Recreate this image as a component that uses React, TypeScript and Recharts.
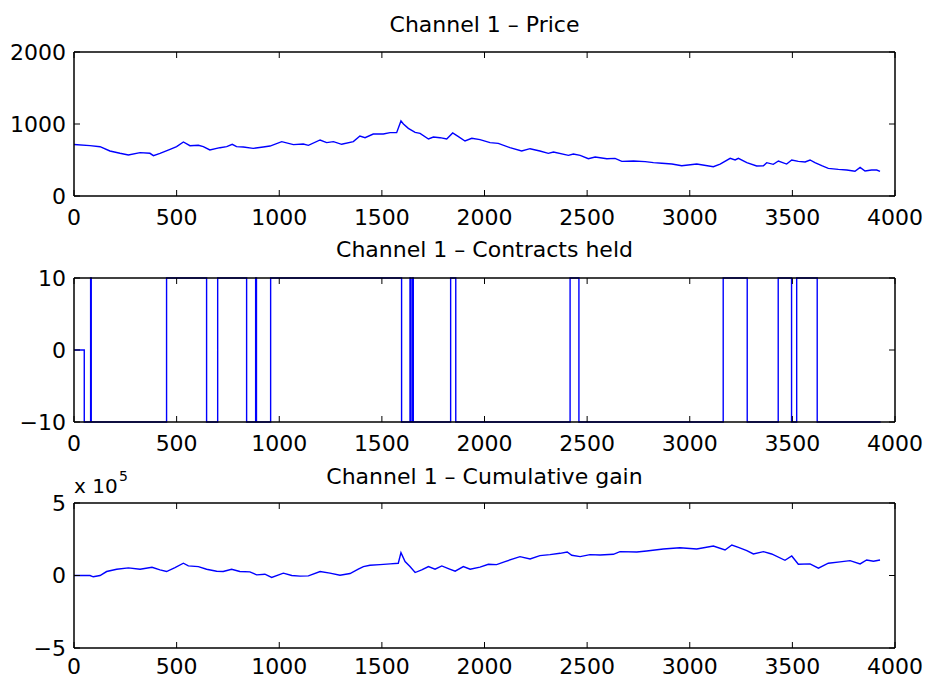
import React from "react";
import { LineChart, Line, XAxis, YAxis } from "recharts";

const FONT = '"DejaVu Sans", "Liberation Sans", sans-serif';
const BLUE = "#0000ff";

const xTicks = [0, 500, 1000, 1500, 2000, 2500, 3000, 3500, 4000];
const priceTicks = [0, 1000, 2000];
const contractTicks = [-10, 0, 10];
const gainTicks = [-500000, 0, 500000];

// sample index / price
const priceTime = [
  0, 78, 127, 175, 224, 265, 322, 370, 387, 419, 468, 500, 533, 565, 606, 630, 662, 711, 744, 771,
  792, 825, 873, 922, 955, 1012, 1069, 1117, 1142, 1199, 1231, 1264, 1304, 1361, 1393, 1418, 1458,
  1507, 1540, 1572, 1593, 1605, 1629, 1662, 1686, 1727, 1751, 1783, 1816, 1845, 1873, 1905, 1938,
  1978, 2027, 2067, 2124, 2181, 2222, 2270, 2311, 2336, 2409, 2433, 2466, 2506, 2539, 2596, 2636,
  2669, 2726, 2783, 2823, 2864, 2913, 2961, 3034, 3115, 3148, 3197, 3221, 3237, 3278, 3326, 3359,
  3375, 3407, 3432, 3472, 3497, 3529, 3562, 3586, 3610, 3643, 3675, 3724, 3765, 3805, 3830, 3854,
  3886, 3911, 3927,
];
const priceValue = [
  715, 699, 685, 625, 593, 570, 602, 593, 560, 593, 648, 685, 750, 699, 704, 685, 639, 671, 685, 718,
  685, 681, 662, 681, 694, 755, 713, 722, 704, 778, 741, 755, 718, 755, 833, 810, 861,
  861, 880, 880, 1042, 1000, 940, 884, 870, 792, 819, 810, 792, 875, 824, 764, 801,
  783, 741, 731, 671, 625, 657, 625, 593, 611, 565, 583, 565, 518, 542, 518, 523,
  481, 486, 477, 463, 454, 444, 421, 444, 407, 444, 523, 500, 523, 463, 417, 421,
  463, 440, 486, 444, 500, 481, 472, 500, 463, 421, 384, 370, 361, 343, 398, 347,
  361, 361, 343,
];

// position switches (value holds until next switch)
const contractTime = [
  0, 50, 81, 84, 451, 646, 700, 841, 885, 889, 958, 1596, 1637, 1641, 1649, 1653, 1835, 1860,
  2417, 2460, 3163, 3280, 3431, 3496, 3521, 3621, 3930,
];
const contractValue = [
  0, -10, 10, -10, 10, -10, 10, -10, 10, -10, 10, -10, 10, -10, 10, -10, 10, -10,
  10, -10, 10, -10, 10, -10, 10, -10, -10,
];

const gainTime = [
  0, 78, 94, 127, 159, 208, 265, 322, 380, 419, 451, 492, 533, 557, 606, 646, 695, 727, 768, 808,
  857, 890, 930, 963, 1020, 1061, 1101, 1142, 1199, 1247, 1296, 1345, 1385, 1410, 1442, 1491,
  1540, 1580, 1593, 1613, 1637, 1662, 1694, 1727, 1759, 1792, 1824, 1857, 1897, 1930, 1978,
  2019, 2059, 2100, 2173, 2222, 2270, 2319, 2368, 2403, 2425, 2466, 2514, 2563, 2628, 2660,
  2742, 2790, 2871, 2952, 3034, 3115, 3172, 3205, 3237, 3278, 3310, 3359, 3399, 3464, 3497,
  3529, 3586, 3627, 3675, 3732, 3781, 3830, 3862, 3895, 3927,
];
const gainValue = [
  0, 0, -9000, 0, 27400, 43400, 52500, 43400, 57000, 38800, 27400, 54800, 84500, 66200, 61600,
  43400, 29700, 27400, 43400, 27400, 25100, 4600, 9100, -13700, 16000, 0, -4600, -2300, 27400,
  16000, 2300, 13700, 43400, 61600, 70800, 75300, 79900, 84500, 157500, 95900, 61600, 20500,
  38800, 61600, 43400, 66200, 47900, 29700, 61600, 43400, 58000, 77600, 75300, 95900, 130100,
  114200, 137000, 143800, 153000, 162100, 139300, 130100, 143800, 141500, 146100, 164400,
  162100, 168900, 182600, 191800, 182600, 203200, 175800, 210000, 194100, 171200, 148400,
  164400, 148400, 105000, 134700, 77600, 79900, 50200, 84500, 93600, 102700, 79900, 107300,
  98200, 107300,
];

const toRows = (ts: number[], vs: number[]) => ts.map((t, i) => ({ t, v: vs[i] }));

const minus = (s: string) => s.replace("-", "\u2212");

const tickStyle = { fill: "#000", fontSize: 22, fontFamily: FONT };
const axisLine = { stroke: "#000", strokeWidth: 1.5 };
const tickLine = { stroke: "#000", strokeWidth: 1 };

type PanelProps = {
  rows: { t: number; v: number }[];
  top: number;
  height: number;
  marginTop: number;
  xHeight: number;
  xGap: number;
  domain: [number, number];
  ticks: number[];
  fmt: (v: number) => string;
  step?: boolean;
};

function Panel({ rows, top, height, marginTop, xHeight, xGap, domain, ticks, fmt, step }: PanelProps) {
  return (
    <div style={{ position: "absolute", left: 0, top }}>
      <LineChart width={927} height={height} data={rows} margin={{ top: marginTop, right: 30, bottom: 0, left: 0 }}>
        <XAxis
          xAxisId="b"
          dataKey="t"
          type="number"
          domain={[0, 4000]}
          ticks={xTicks}
          interval={0}
          height={xHeight}
          tickSize={-6}
          tickMargin={xGap}
          tick={tickStyle}
          tickLine={tickLine}
          axisLine={axisLine}
        />
        <XAxis
          xAxisId="t"
          orientation="top"
          dataKey="t"
          type="number"
          domain={[0, 4000]}
          allowDataOverflow
          ticks={xTicks}
          interval={0}
          height={2}
          tickSize={-6}
          tickFormatter={() => ""}
          tickLine={tickLine}
          axisLine={axisLine}
        />
        <YAxis
          yAxisId="l"
          type="number"
          domain={domain}
          ticks={ticks}
          interval={0}
          width={74}
          tickSize={-6}
          tickMargin={14}
          tick={tickStyle}
          tickFormatter={fmt}
          tickLine={tickLine}
          axisLine={axisLine}
        />
        <YAxis
          yAxisId="r"
          orientation="right"
          type="number"
          domain={domain}
          allowDataOverflow
          ticks={ticks}
          interval={0}
          width={2}
          tickSize={-6}
          tickFormatter={() => ""}
          tickLine={tickLine}
          axisLine={axisLine}
        />
        <Line
          xAxisId="b"
          yAxisId="l"
          dataKey="v"
          type={step ? "stepAfter" : "linear"}
          stroke={BLUE}
          strokeWidth={1.4}
          dot={false}
          activeDot={false}
          isAnimationActive={false}
        />
      </LineChart>
    </div>
  );
}

const titleStyle: React.CSSProperties = {
  position: "absolute",
  left: 74,
  width: 821,
  textAlign: "center",
  fontFamily: FONT,
  fontSize: 22,
  lineHeight: "22px",
  color: "#000",
  whiteSpace: "nowrap",
};

export default function App() {
  return (
    <div style={{ position: "absolute", left: 0, top: 0, width: 927, height: 680, background: "#fff", overflow: "hidden" }}>
      <div style={{ ...titleStyle, top: 14 }}>Channel 1 – Price</div>
      <div style={{ ...titleStyle, top: 239 }}>Channel 1 – Contracts held</div>
      <div style={{ ...titleStyle, top: 466 }}>Channel 1 – Cumulative gain</div>
      <div style={{ position: "absolute", left: 74, top: 476, fontFamily: FONT, fontSize: 20, lineHeight: "20px", whiteSpace: "nowrap" }}>x 10</div>
      <div style={{ position: "absolute", left: 119, top: 469, fontFamily: FONT, fontSize: 14, lineHeight: "14px" }}>5</div>

      <Panel
        rows={toRows(priceTime, priceValue)}
        top={0}
        height={230}
        marginTop={50}
        xHeight={34}
        xGap={19}
        domain={[0, 2000]}
        ticks={priceTicks}
        fmt={(v) => String(v)}
      />
      <Panel
        rows={toRows(contractTime, contractValue)}
        top={230}
        height={226}
        marginTop={46}
        xHeight={34}
        xGap={19}
        domain={[-10, 10]}
        ticks={contractTicks}
        fmt={(v) => minus(String(v))}
        step
      />
      <Panel
        rows={toRows(gainTime, gainValue)}
        top={456}
        height={224}
        marginTop={45}
        xHeight={32}
        xGap={16}
        domain={[-500000, 500000]}
        ticks={gainTicks}
        fmt={(v) => minus(String(v / 100000))}
      />
    </div>
  );
}
